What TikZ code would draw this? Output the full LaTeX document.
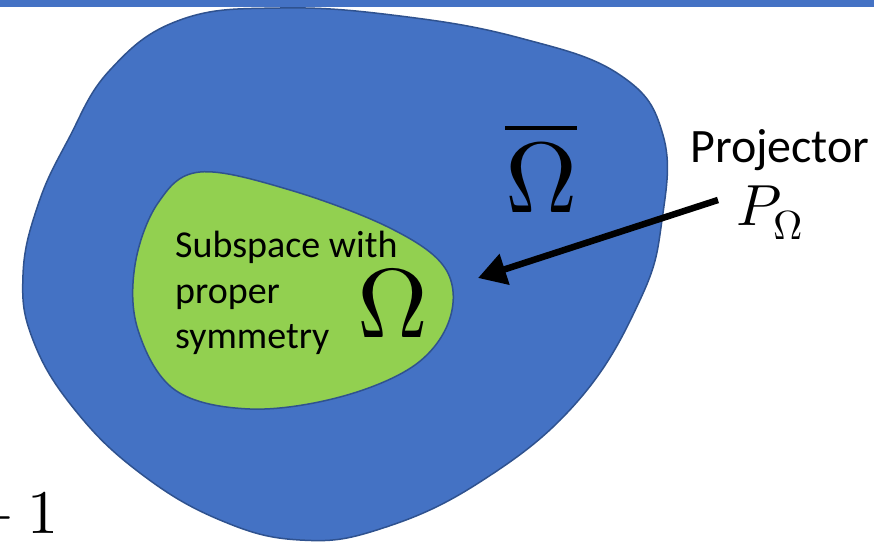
\documentclass[tikz,border=0pt]{standalone}
\usepackage{fontspec}
\usepackage{unicode-math}
\newfontfamily\calib{Carlito}
\usetikzlibrary{arrows.meta}
\definecolor{outerblue}{HTML}{4472C4}
\definecolor{edgeblue}{HTML}{2F528F}
\definecolor{innergreen}{HTML}{92D050}
\tikzset{
  region/.style={draw=edgeblue, line width=1.5pt},
  txt/.style={inner sep=0pt, font=\calib},
  projarrow/.style={line width=6.5pt, -{Triangle[length=28pt,width=31pt]}}
}
\begin{document}
\begin{tikzpicture}[x=1pt,y=-1pt]
\useasboundingbox (0,0) rectangle (887,546);
\fill[outerblue] (0,0) rectangle (874,7);
\draw[region, fill=outerblue] plot[smooth cycle, tension=0.7] coordinates {
(280,8) (400,16) (520,38) (620,75) (663,135) (662,220) (640,300) (577,402)
(480,482) (380,529) (300,540) (220,520) (140,473) (75,410) (33,340) (23,275)
(38,205) (68,140) (110,70) (180,20)};
\draw[region, fill=innergreen] plot[smooth cycle, tension=0.6] coordinates {
(200,172) (290,190) (390,228) (445,268) (450,318) (415,365) (340,397) (250,409)
(175,390) (138,330) (135,265) (158,203)};
\node[txt, anchor=north west, align=left, font=\calib\fontsize{38}{45.5}\selectfont] (sub) at (175,231) {Subspace with\\proper\\symmetry};
\node[txt, anchor=base west, font=\fontsize{98}{98}\selectfont] (om) at (357,337) {$\Omega$};
\node[txt, anchor=base west, font=\fontsize{100}{100}\selectfont] (omc) at (505,212) {$\overline{\Omega}$};
\node[txt, anchor=base west, font=\calib\fontsize{48}{48}\selectfont] (proj) at (690,162) {Projector};
\node[txt, anchor=base west, font=\fontsize{58}{58}\selectfont] (pom) at (736,225) {$P_\Omega$};
\node[txt, anchor=base east, font=\fontsize{62}{62}\selectfont] (one) at (59,533) {${}-1$};
\coordinate (tail) at (718,200);
\coordinate (tip) at (478,278);
\draw[projarrow] (tail) -- (tip);
\end{tikzpicture}
\end{document}
